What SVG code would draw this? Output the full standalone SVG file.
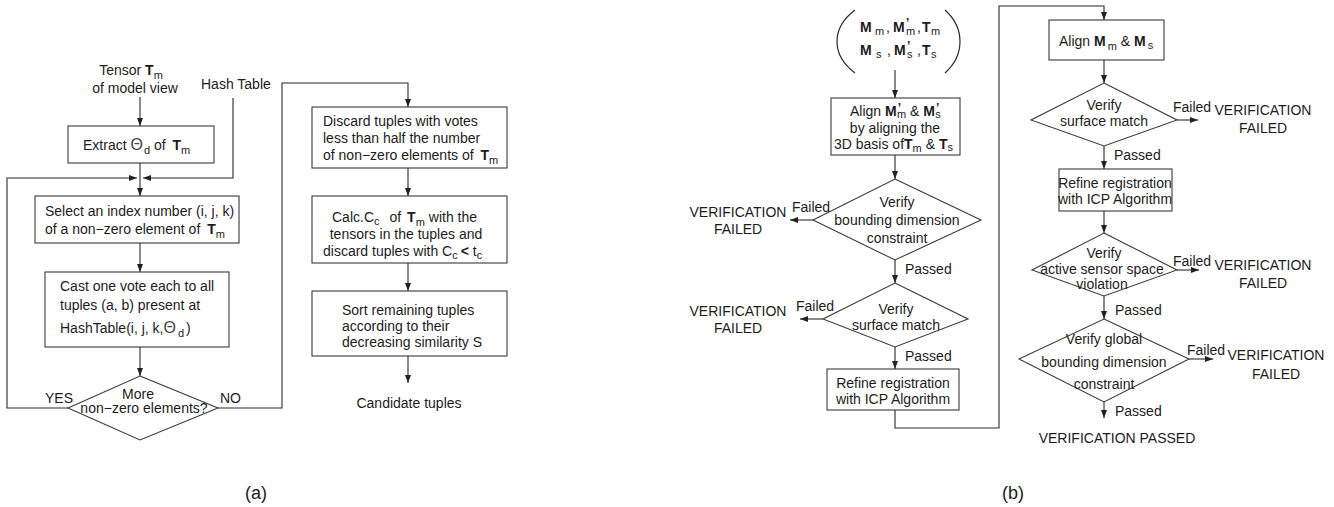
<svg xmlns="http://www.w3.org/2000/svg" width="1334" height="507" viewBox="0 0 1334 507">
  <defs>
    <marker id="ah" markerWidth="8" markerHeight="6" refX="8" refY="3" orient="auto" markerUnits="userSpaceOnUse">
      <path d="M0,0 L8,3 L0,6 z" fill="#222"/>
    </marker>
    <style>
      .t{font-family:"Liberation Sans",Arial,Helvetica,sans-serif;font-size:14px;fill:#1c1c1c}
      .m{text-anchor:middle}
      .b{font-weight:bold}
      .s{font-size:11px;font-weight:normal}
      .p{font-size:12px;font-weight:bold}
      .th{font-size:16px;fill:#444}
      .cap{font-size:18px}
      .ln{fill:none;stroke:#2a2a2a;stroke-width:1.1}
      .ar{marker-end:url(#ah)}
      .bx{fill:#fff;stroke:#3a3a3a;stroke-width:1.1}
      .pr{fill:none;stroke:#2a2a2a;stroke-width:1.2}
    </style>
  </defs>
  <rect width="1334" height="507" fill="#fff"/>

  <!-- ===== (a) tensor matching flow ===== -->
  <g id="connectors-a">
    <path class="ln ar" d="M140,97 V126"/>
    <path class="ln ar" d="M140,163 V196"/>
    <path class="ln ar" d="M233,98 V178 H143"/>
    <path class="ln ar" d="M68,408 H7 V178 H137"/>
    <path class="ln ar" d="M140,243 V272"/>
    <path class="ln ar" d="M140,347 V376"/>
    <path class="ln ar" d="M218,408 H282 V83 H408 V107"/>
    <path class="ln ar" d="M408,168 V196"/>
    <path class="ln ar" d="M408,263 V291"/>
    <path class="ln ar" d="M408,356 V383"/>
  </g>

  <g id="tensor-input">
    <text class="t m" x="131" y="75">Tensor <tspan class="b">T</tspan><tspan class="s" dy="4">m</tspan></text>
    <text class="t m" x="135" y="93">of model view</text>
  </g>

  <g id="hash-table">
    <text class="t" x="201" y="89">Hash Table</text>
  </g>

  <g id="extract">
    <rect class="bx" x="68" y="126" width="146" height="37"/>
    <text class="t" x="83" y="150">Extract <tspan class="th">Θ</tspan><tspan class="s" dx="1" dy="4">d</tspan><tspan dy="-4"> of  </tspan><tspan class="b" dx="3">T</tspan><tspan class="s" dy="4">m</tspan></text>
  </g>

  <g id="select-index">
    <rect class="bx" x="35" y="196" width="204" height="47"/>
    <text class="t" x="45" y="216">Select an index number (i, j, k)</text>
    <text class="t" x="45" y="234">of a non−zero element of <tspan class="b" dx="3">T</tspan><tspan class="s" dy="4">m</tspan></text>
  </g>

  <g id="cast-vote">
    <rect class="bx" x="45" y="272" width="184" height="75"/>
    <text class="t" x="60" y="291">Cast one vote each to all</text>
    <text class="t" x="60" y="310">tuples (a, b) present at</text>
    <text class="t" x="60" y="333">HashTable(i, j, k,<tspan class="th">Θ</tspan><tspan class="s" dx="2" dy="4">d</tspan><tspan dx="2" dy="-4">)</tspan></text>
  </g>

  <g id="more-elements">
    <polygon class="bx" points="140,376 218,408 140,440 68,408"/>
    <text class="t m" x="138" y="399">More</text>
    <text class="t m" x="144" y="413">non−zero elements?</text>
    <text class="t" x="45" y="403">YES</text>
    <text class="t" x="220" y="403">NO</text>
  </g>

  <g id="discard-votes">
    <rect class="bx" x="312" y="107" width="195" height="61"/>
    <text class="t" x="323" y="126">Discard tuples with votes</text>
    <text class="t" x="323" y="143">less than half the number</text>
    <text class="t" x="323" y="160">of non−zero elements of <tspan class="b" dx="3">T</tspan><tspan class="s" dy="4">m</tspan></text>
  </g>

  <g id="calc-cc">
    <rect class="bx" x="312" y="196" width="195" height="67"/>
    <text class="t" x="332" y="222">Calc.C<tspan class="s" dy="3">c</tspan><tspan dx="10" dy="-3">of </tspan><tspan class="b" dx="2">T</tspan><tspan class="s" dy="4">m</tspan><tspan dx="4" dy="-4">with the</tspan></text>
    <text class="t m" x="406" y="239">tensors in the tuples and</text>
    <text class="t" x="323" y="256">discard tuples with C<tspan class="s" dy="3">c</tspan><tspan class="b" dx="3" dy="-3">&lt;</tspan><tspan dx="4">t</tspan><tspan class="s" dy="3">c</tspan></text>
  </g>

  <g id="sort-tuples">
    <rect class="bx" x="312" y="291" width="195" height="65"/>
    <text class="t" x="342" y="315">Sort remaining tuples</text>
    <text class="t" x="342" y="331">according to their</text>
    <text class="t" x="342" y="347">decreasing similarity S</text>
  </g>

  <g id="candidate-tuples">
    <text class="t m" x="409" y="408">Candidate tuples</text>
  </g>

  <text class="t m cap" x="256" y="499">(a)</text>

  <!-- ===== (b) verification flow ===== -->
  <g id="connectors-b">
    <path class="ln ar" d="M895,70 V98"/>
    <path class="ln ar" d="M895,155 V179"/>
    <path class="ln ar" d="M813,220 H790"/>
    <path class="ln ar" d="M895,260 V283"/>
    <path class="ln ar" d="M823,319 H800"/>
    <path class="ln ar" d="M895,347 V369"/>
    <path class="ln ar" d="M895,410 V428 H999 V6 H1104 V20"/>
    <path class="ln ar" d="M1104,60 V83"/>
    <path class="ln ar" d="M1177,120 H1198"/>
    <path class="ln ar" d="M1104,146 V169"/>
    <path class="ln ar" d="M1104,211 V233"/>
    <path class="ln ar" d="M1177,270 H1199"/>
    <path class="ln ar" d="M1104,296 V319"/>
    <path class="ln ar" d="M1189,359 H1213"/>
    <path class="ln ar" d="M1104,402 V418"/>
  </g>

  <g id="model-scene-input">
    <path class="pr" d="M855,10 C831,28 831,55 855,73"/>
    <path class="pr" d="M945,10 C965,28 965,55 945,73"/>
    <text class="t">
      <tspan class="b" x="860" y="32">M</tspan><tspan class="s" x="875" y="35">m</tspan><tspan x="886" y="32">,</tspan><tspan class="b" x="893" y="32">M</tspan><tspan class="p" x="906" y="27">’</tspan><tspan class="s" x="906" y="35">m</tspan><tspan x="917" y="32">,</tspan><tspan class="b" x="922" y="32">T</tspan><tspan class="s" x="931" y="35">m</tspan>
      <tspan class="b" x="860" y="55">M</tspan><tspan class="s" x="876" y="58">s</tspan><tspan x="887" y="55">,</tspan><tspan class="b" x="894" y="55">M</tspan><tspan class="p" x="907" y="50">’</tspan><tspan class="s" x="907" y="58">s</tspan><tspan x="917" y="55">,</tspan><tspan class="b" x="922" y="55">T</tspan><tspan class="s" x="931" y="58">s</tspan>
    </text>
  </g>

  <g id="align-basis">
    <rect class="bx" x="831" y="98" width="129" height="57"/>
    <text class="t" x="850" y="116">Align <tspan class="b">M</tspan><tspan class="p" dx="1" dy="-4">’</tspan><tspan class="s" dx="-4" dy="6">m</tspan><tspan dy="-2"> &amp; </tspan><tspan class="b">M</tspan><tspan class="p" dx="1" dy="-4">’</tspan><tspan class="s" dx="-4" dy="6">s</tspan></text>
    <text class="t m" x="895" y="133">by aligning the</text>
    <text class="t" x="834" y="149">3D basis of<tspan class="b">T</tspan><tspan class="s" dy="3">m</tspan><tspan dy="-3"> &amp; </tspan><tspan class="b">T</tspan><tspan class="s" dy="2">s</tspan></text>
  </g>

  <g id="verify-bounding">
    <polygon class="bx" points="895,179 981,220 895,260 813,220"/>
    <text class="t m" x="897" y="207">Verify</text>
    <text class="t m" x="897" y="225">bounding dimension</text>
    <text class="t m" x="897" y="243">constraint</text>
    <text class="t" x="792" y="212">Failed</text>
    <text class="t m" x="738" y="217">VERIFICATION</text>
    <text class="t m" x="738" y="234">FAILED</text>
    <text class="t" x="905" y="274">Passed</text>
  </g>

  <g id="verify-surface-a">
    <polygon class="bx" points="895,283 968,319 895,347 823,319"/>
    <text class="t m" x="896" y="314">Verify</text>
    <text class="t m" x="896" y="330">surface match</text>
    <text class="t" x="796" y="311">Failed</text>
    <text class="t m" x="738" y="316">VERIFICATION</text>
    <text class="t m" x="738" y="333">FAILED</text>
    <text class="t" x="905" y="361">Passed</text>
  </g>

  <g id="refine-icp-a">
    <rect class="bx" x="827" y="369" width="132" height="41"/>
    <text class="t m" x="893" y="388">Refine registration</text>
    <text class="t m" x="893" y="404">with ICP Algorithm</text>
  </g>

  <g id="align-full">
    <rect class="bx" x="1049" y="20" width="115" height="40"/>
    <text class="t" x="1059" y="46">Align <tspan class="b">M</tspan><tspan class="s" dx="2" dy="4">m</tspan><tspan dy="-4"> &amp; </tspan><tspan class="b">M</tspan><tspan class="s" dx="2" dy="3">s</tspan></text>
  </g>

  <g id="verify-surface-b">
    <polygon class="bx" points="1104,83 1177,120 1104,146 1031,120"/>
    <text class="t m" x="1104" y="110">Verify</text>
    <text class="t m" x="1104" y="126">surface match</text>
    <text class="t" x="1173" y="112">Failed</text>
    <text class="t m" x="1263" y="115">VERIFICATION</text>
    <text class="t m" x="1263" y="133">FAILED</text>
    <text class="t" x="1114" y="160">Passed</text>
  </g>

  <g id="refine-icp-b">
    <rect class="bx" x="1059" y="169" width="113" height="42"/>
    <text class="t m" x="1115" y="188">Refine registration</text>
    <text class="t m" x="1115" y="204">with ICP Algorithm</text>
  </g>

  <g id="verify-sensor-space">
    <polygon class="bx" points="1104,233 1177,270 1104,296 1032,270"/>
    <text class="t m" x="1104" y="258">Verify</text>
    <text class="t m" x="1102" y="274">active sensor space</text>
    <text class="t m" x="1102" y="289">violation</text>
    <text class="t" x="1173" y="266">Failed</text>
    <text class="t m" x="1263" y="270">VERIFICATION</text>
    <text class="t m" x="1263" y="288">FAILED</text>
    <text class="t" x="1115" y="315">Passed</text>
  </g>

  <g id="verify-global">
    <polygon class="bx" points="1104,319 1189,359 1104,402 1019,359"/>
    <text class="t m" x="1104" y="344">Verify global</text>
    <text class="t m" x="1104" y="367">bounding dimension</text>
    <text class="t m" x="1104" y="389">constraint</text>
    <text class="t" x="1187" y="355">Failed</text>
    <text class="t m" x="1276" y="360">VERIFICATION</text>
    <text class="t m" x="1276" y="379">FAILED</text>
    <text class="t" x="1115" y="416">Passed</text>
  </g>

  <g id="verification-passed">
    <text class="t m" x="1117" y="443">VERIFICATION PASSED</text>
  </g>

  <text class="t m cap" x="1013" y="499">(b)</text>
</svg>
